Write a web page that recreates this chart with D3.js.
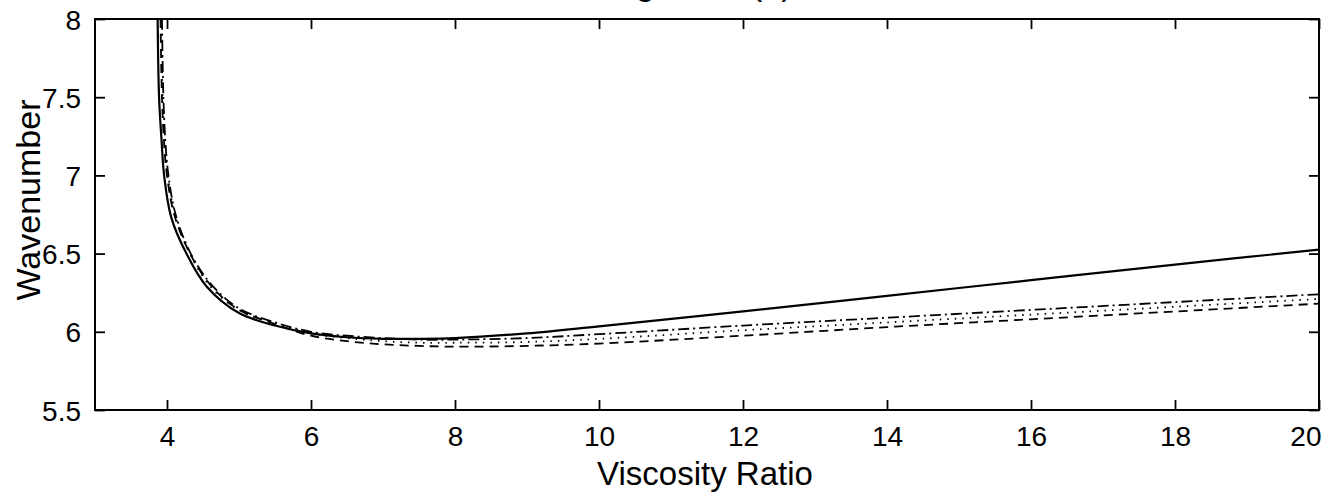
<!DOCTYPE html>
<html>
<head>
<meta charset="utf-8">
<script src="https://cdn.jsdelivr.net/npm/d3@7"></script>
<style>
  html, body { margin: 0; padding: 0; background: #fff; }
  svg { display: block; font-family: "Liberation Sans", Arial, sans-serif; }
</style>
</head>
<body>
<svg id="chart" width="1328" height="499"></svg>
<script>
// viscosity ratio (x) and wavenumber (y) for each curve
const xSolid = [3.87, 3.89, 3.925, 3.96, 4.06, 4.27, 4.55, 5.0, 5.5, 6.0, 6.5, 7.0, 7.5, 8.0, 9.0, 10, 12, 14, 16, 18, 20];
const ySolid = [8.0, 7.5, 7.22, 7.0, 6.73, 6.5, 6.29, 6.12, 6.04, 5.99, 5.965, 5.955, 5.955, 5.96, 5.99, 6.035, 6.13, 6.23, 6.33, 6.43, 6.525];

const xDashDot = [3.93, 3.95, 3.98, 4.02, 4.12, 4.33, 4.62, 5.0, 5.5, 6.0, 6.5, 7.0, 7.5, 8.0, 9.0, 10, 12, 14, 16, 18, 20];
const yDashDot = [8.0, 7.5, 7.2, 7.0, 6.75, 6.5, 6.3, 6.15, 6.06, 6.0, 5.975, 5.96, 5.95, 5.95, 5.96, 5.985, 6.04, 6.09, 6.14, 6.19, 6.24];

const xDotted = [3.92, 3.94, 3.97, 4.01, 4.11, 4.32, 4.6, 5.0, 5.5, 6.0, 6.5, 7.0, 7.5, 8.0, 9.0, 10, 12, 14, 16, 18, 20];
const yDotted = [8.0, 7.5, 7.2, 7.0, 6.75, 6.5, 6.29, 6.14, 6.055, 5.99, 5.96, 5.94, 5.93, 5.93, 5.935, 5.955, 6.01, 6.06, 6.11, 6.16, 6.21];

const xDashed = [3.91, 3.93, 3.96, 4.0, 4.1, 4.32, 4.62, 5.0, 5.5, 6.0, 6.5, 7.0, 7.5, 8.0, 9.0, 10, 12, 14, 16, 18, 20];
const yDashed = [8.0, 7.5, 7.2, 7.0, 6.75, 6.5, 6.29, 6.14, 6.05, 5.975, 5.94, 5.92, 5.91, 5.905, 5.91, 5.925, 5.975, 6.03, 6.08, 6.13, 6.18];

const xTicks = [4, 6, 8, 10, 12, 14, 16, 18, 20];
const yTicks = [5.5, 6, 6.5, 7, 7.5, 8];

const svg = d3.select("#chart");
const mLeft = 95, mRight = 1319, mTop = 19, mBottom = 410;

const x = d3.scaleLinear().domain([3, 20]).range([mLeft, mRight]);
const y = d3.scaleLinear().domain([5.5, 8]).range([mBottom, mTop]);

// title, mostly cut off at the top edge
svg.append("text")
  .attr("x", 700).attr("y", -5)
  .attr("text-anchor", "middle")
  .attr("font-size", 34)
  .text("Figure 10(a)");

svg.append("clipPath").attr("id", "clip")
  .append("rect")
  .attr("x", mLeft).attr("y", mTop)
  .attr("width", mRight - mLeft).attr("height", mBottom - mTop);

const line = d3.line()
  .x(d => x(d[0]))
  .y(d => y(d[1]))
  .curve(d3.curveCatmullRom.alpha(0.5));

const series = [
  { xs: xSolid, ys: ySolid, dash: null, w: 2.2 },
  { xs: xDashDot, ys: yDashDot, dash: "11,4,2,4", w: 1.8 },
  { xs: xDotted, ys: yDotted, dash: "1.5,6", w: 1.8 },
  { xs: xDashed, ys: yDashed, dash: "9,6", w: 1.8 }
];

const g = svg.append("g").attr("clip-path", "url(#clip)");
series.forEach(s => {
  g.append("path")
    .datum(d3.zip(s.xs, s.ys))
    .attr("d", line)
    .attr("fill", "none")
    .attr("stroke", "#000")
    .attr("stroke-width", s.w)
    .attr("stroke-dasharray", s.dash);
});

// axes with inward ticks on all four sides
const tick = 10;
const axisBottom = d3.axisBottom(x).tickValues(xTicks).tickSize(-tick).tickPadding(14).tickFormat(d3.format("d"));
const axisTop = d3.axisTop(x).tickValues(xTicks).tickSize(-tick).tickFormat("");
const axisLeft = d3.axisLeft(y).tickValues(yTicks).tickSize(-tick).tickPadding(14).tickFormat(d => d);
const axisRight = d3.axisRight(y).tickValues(yTicks).tickSize(-tick).tickFormat("");

const gb = svg.append("g").attr("transform", `translate(0,${mBottom})`).call(axisBottom);
const gt = svg.append("g").attr("transform", `translate(0,${mTop})`).call(axisTop);
const gl = svg.append("g").attr("transform", `translate(${mLeft},0)`).call(axisLeft);
const gr = svg.append("g").attr("transform", `translate(${mRight},0)`).call(axisRight);

[gb, gt, gl, gr].forEach(a => {
  a.select(".domain").remove();
  a.selectAll(".tick line").attr("stroke", "#000").attr("stroke-width", 1.8);
  a.selectAll("text").attr("font-size", 28).attr("fill", "#000")
    .attr("font-family", "Liberation Sans, Arial, sans-serif");
});
gb.selectAll("text").attr("dy", "0.8em");
gb.selectAll("text").filter(d => d === 20).attr("text-anchor", "end").attr("x", 2);
gl.selectAll("text").attr("dy", "0.36em");

svg.append("rect")
  .attr("x", mLeft).attr("y", mTop)
  .attr("width", mRight - mLeft).attr("height", mBottom - mTop)
  .attr("fill", "none")
  .attr("stroke", "#000")
  .attr("stroke-width", 2);

svg.append("text")
  .attr("x", 705).attr("y", 485)
  .attr("text-anchor", "middle")
  .attr("font-size", 33)
  .text("Viscosity Ratio");

svg.append("text")
  .attr("transform", "translate(40,200) rotate(-90)")
  .attr("text-anchor", "middle")
  .attr("font-size", 34)
  .text("Wavenumber");
</script>
</body>
</html>
